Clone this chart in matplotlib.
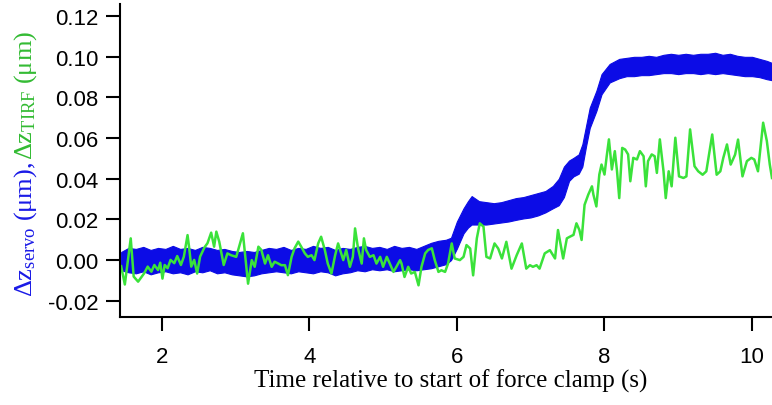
import matplotlib
matplotlib.use("Agg")
import matplotlib.pyplot as plt

plt.rcParams['font.family'] = 'Liberation Sans'
plt.rcParams['axes.unicode_minus'] = False
plt.rcParams['mathtext.fontset'] = 'custom'
plt.rcParams['mathtext.rm'] = 'Liberation Serif'
plt.rcParams['mathtext.it'] = 'Liberation Serif:italic'

# servo trace, drawn as its noise envelope (upper / lower edge of the blue band)
servo_t = [1.45, 1.55, 1.65, 1.75, 1.85, 1.95, 2.05, 2.15, 2.25, 2.35, 2.45, 2.55,
           2.65, 2.75, 2.85, 2.95, 3.05, 3.15, 3.25, 3.35, 3.45, 3.55, 3.65, 3.75,
           3.85, 3.95, 4.05, 4.15, 4.25, 4.35, 4.45, 4.55, 4.65, 4.75, 4.85, 4.95,
           5.05, 5.15, 5.25, 5.35, 5.45, 5.55, 5.65, 5.75, 5.85,
           5.92, 6.0, 6.09, 6.15, 6.2, 6.3, 6.4, 6.5, 6.6, 6.7, 6.8, 6.9, 7.0, 7.1,
           7.2, 7.3, 7.38, 7.45, 7.52, 7.58, 7.65, 7.7, 7.75, 7.8, 7.89, 7.96, 8.07,
           8.2, 8.3, 8.4, 8.5, 8.6, 8.7, 8.8, 8.9, 9.0, 9.1, 9.2, 9.3, 9.4, 9.5, 9.6,
           9.7, 9.8, 9.9, 10.0, 10.1, 10.2, 10.27]
servo_hi = [0.004, 0.006, 0.0055, 0.0065, 0.005, 0.006, 0.0055, 0.007, 0.0055, 0.006,
            0.005, 0.0065, 0.006, 0.005, 0.0055, 0.0045, 0.004, 0.0045, 0.004, 0.005,
            0.006, 0.0055, 0.0065, 0.005, 0.006, 0.0055, 0.007, 0.006, 0.0065, 0.005,
            0.006, 0.0055, 0.0065, 0.007, 0.006, 0.0065, 0.0055, 0.007, 0.006, 0.0065,
            0.0055, 0.007, 0.0085, 0.0095, 0.010,
            0.011, 0.019, 0.0255, 0.029, 0.0315, 0.029, 0.0285, 0.028, 0.0285, 0.0295,
            0.0305, 0.031, 0.032, 0.033, 0.034, 0.0365, 0.040, 0.046, 0.049, 0.0503,
            0.052, 0.057, 0.066, 0.075, 0.0833, 0.0915, 0.0965, 0.099, 0.0995, 0.100,
            0.100, 0.1005, 0.100, 0.101, 0.1015, 0.101, 0.1015, 0.101, 0.1015, 0.1015,
            0.102, 0.101, 0.1015, 0.1005, 0.100, 0.100, 0.099, 0.098, 0.097]
servo_lo = [-0.005, -0.006, -0.0065, -0.0055, -0.007, -0.006, -0.0055, -0.0065, -0.006,
            -0.007, -0.0055, -0.006, -0.005, -0.0065, -0.006, -0.007, -0.0075, -0.008,
            -0.0075, -0.0065, -0.006, -0.0055, -0.006, -0.0065, -0.0055, -0.006, -0.0065,
            -0.0055, -0.006, -0.0075, -0.0065, -0.006, -0.005, -0.0055, -0.0045, -0.005,
            -0.0045, -0.0055, -0.005, -0.0045, -0.005, -0.0045, -0.004, -0.003, -0.002,
            0.000, 0.0057, 0.0132, 0.016, 0.0175, 0.0175, 0.0175, 0.018, 0.0185, 0.019,
            0.0198, 0.0205, 0.021, 0.022, 0.0235, 0.0255, 0.027, 0.031, 0.039, 0.0412,
            0.0425, 0.046, 0.056, 0.065, 0.0734, 0.0816, 0.0874, 0.0895, 0.0905, 0.0905,
            0.091, 0.091, 0.0915, 0.092, 0.092, 0.0915, 0.092, 0.092, 0.0915, 0.092,
            0.0915, 0.092, 0.0915, 0.091, 0.0905, 0.0905, 0.090, 0.089, 0.0885]

# TIRF trace
tirf_t = [1.45, 1.50, 1.58, 1.62, 1.68, 1.76, 1.81, 1.86, 1.90, 1.95, 1.98, 2.01, 2.04,
          2.08, 2.12, 2.17, 2.21, 2.26, 2.30, 2.35, 2.37, 2.40, 2.44, 2.48, 2.52, 2.58,
          2.62, 2.67, 2.71, 2.74, 2.78, 2.81, 2.84, 2.89,
          2.94, 3.01, 3.10, 3.17, 3.22, 3.26, 3.31, 3.35, 3.40, 3.44, 3.49, 3.53, 3.58,
          3.62, 3.67, 3.71, 3.76, 3.80, 3.85, 3.89, 3.94, 3.98, 4.03, 4.07, 4.12, 4.16,
          4.21, 4.25, 4.30, 4.35, 4.39,
          4.46, 4.50, 4.55, 4.59, 4.62, 4.66, 4.71, 4.74, 4.77, 4.82, 4.87, 4.91, 4.96,
          5.00, 5.05, 5.09, 5.14, 5.18, 5.23, 5.25, 5.29, 5.34, 5.38, 5.43, 5.48, 5.52,
          5.57, 5.61, 5.66, 5.70, 5.75, 5.79, 5.84, 5.88,
          5.93, 5.97, 6.04, 6.09, 6.13, 6.18, 6.22, 6.27, 6.31, 6.36, 6.40, 6.45, 6.51,
          6.56, 6.61, 6.67, 6.74, 6.81, 6.88, 6.94, 6.99, 7.03, 7.08, 7.12, 7.19, 7.26,
          7.33, 7.37,
          7.44, 7.49, 7.53, 7.58, 7.62, 7.66, 7.69, 7.73, 7.78, 7.83, 7.85, 7.89, 7.93,
          7.96, 8.00, 8.03, 8.06, 8.10, 8.14, 8.17, 8.20, 8.24, 8.28, 8.32, 8.35, 8.39,
          8.44, 8.48, 8.53, 8.56, 8.59, 8.64, 8.68, 8.71, 8.75, 8.80, 8.83,
          8.87, 8.91, 8.96, 9.01, 9.07, 9.11, 9.16, 9.22, 9.27, 9.33, 9.38, 9.46, 9.52,
          9.57, 9.61, 9.66, 9.71, 9.77, 9.81, 9.87, 9.93, 9.99, 10.03, 10.08, 10.15,
          10.20, 10.24, 10.27]
tirf_v = [-0.003, -0.012, 0.0107, -0.0081, -0.0106, -0.0066, -0.0032, -0.0057, -0.0024,
          -0.0049, -0.0013, -0.0091, -0.0024, -0.004, 0.0001, -0.0015, 0.002, -0.0024,
          0.0017, 0.0123, 0.0066, -0.0032, 0.0001, -0.0066, 0.0017, 0.0063, 0.0083,
          0.0135, 0.0066, 0.014, 0.009, 0.0033, -0.0024, 0.0033,
          0.0024, 0.0016, 0.0132, -0.0116, 0.0, -0.0033, 0.0066, 0.005, -0.0017, 0.0024,
          -0.0033, -0.0008, -0.0017, -0.0025, -0.0025, -0.0074, 0.0016, 0.0058, 0.0091,
          0.0066, 0.0033, 0.0016, 0.0024, 0.0, 0.0082, 0.0115, 0.005, -0.0017, -0.0066,
          0.0024, 0.0082,
          0.0, 0.005, -0.0033, 0.0016, 0.0156, 0.0058, -0.0017, 0.0107, 0.005, 0.0016,
          0.0024, -0.0017, 0.0016, -0.0033, 0.0016, -0.0017, -0.0058, -0.0033, 0.0,
          -0.0017, -0.0083, -0.0033, -0.0066, -0.0058, -0.0124, -0.0033, 0.0033, 0.005,
          0.0058, 0.0, -0.0058, -0.005, -0.0058, -0.0017,
          0.0082, 0.0008, 0.0, 0.0016, 0.0074, 0.0057, -0.0075, 0.0107, 0.0181, 0.0165,
          0.0016, 0.0008, 0.0082, 0.0057, 0.0008, 0.009, -0.0042, 0.0024, 0.0082,
          -0.0042, -0.0025, -0.0033, -0.0025, -0.0042, 0.0033, 0.0049, 0.0008, 0.0148,
          0.0008, 0.0107, 0.0115, 0.0124, 0.0181, 0.0148, 0.0099, 0.0272, 0.0322, 0.0363,
          0.0322, 0.0264, 0.0421, 0.047, 0.0421, 0.0511, 0.0594, 0.0446, 0.0536, 0.0437,
          0.0305, 0.0552, 0.0544, 0.052, 0.0388, 0.0503, 0.0495, 0.0536, 0.0511, 0.0363,
          0.0487, 0.052, 0.0511, 0.0429, 0.0594, 0.0437, 0.0305,
          0.0437, 0.0363, 0.0602, 0.0412, 0.0404, 0.0412, 0.0643, 0.0462, 0.0437, 0.042,
          0.0437, 0.0618, 0.042, 0.0437, 0.0503, 0.0569, 0.047, 0.0519, 0.0593, 0.0412,
          0.0487, 0.0503, 0.0495, 0.0437, 0.0676, 0.0586, 0.047, 0.0404]

x_ticks = [2, 4, 6, 8, 10]
y_ticks = [-0.02, 0.00, 0.02, 0.04, 0.06, 0.08, 0.10, 0.12]

fig = plt.figure(figsize=(7.72, 4.06), dpi=100)
ax = fig.add_axes([0.155, 0.2167, 0.845, 0.771])

ax.fill_between(servo_t, servo_lo, servo_hi, color='#0c0ce6', edgecolor='#0c0ce6', lw=0.8)
ax.plot(tirf_t, tirf_v, color='#3ae23a', lw=1.8)

ax.set_xlim(1.43, 10.27)
ax.set_ylim(-0.028, 0.126)
ax.set_xticks(x_ticks)
ax.set_yticks(y_ticks)
ax.set_yticklabels([f'{v:.2f}' for v in y_ticks])

ax.spines['top'].set_visible(False)
ax.spines['right'].set_visible(False)
ax.spines['left'].set_linewidth(1.5)
ax.spines['bottom'].set_linewidth(1.5)
ax.tick_params(axis='both', length=10, width=1.5, labelsize=16)
ax.tick_params(axis='x', pad=11)
ax.tick_params(axis='y', pad=5)

fig.text(0.584, 1 - 381 / 406, 'Time relative to start of force clamp (s)',
         ha='center', va='center', fontfamily='Liberation Serif', fontsize=18)

# two-coloured y label, built from two rotated texts meeting at one point
ysplit = 0.605
fig.text(0.0415, ysplit, 'Δz$_{\\mathrm{servo}}$ (μm), ', color='#1a1ae6', rotation=90,
         rotation_mode='anchor', ha='right', va='baseline',
         fontfamily='Liberation Serif', fontsize=19)
fig.text(0.0415, ysplit, 'Δz$_{\\mathrm{TIRF}}$ (μm)', color='#33bb33', rotation=90,
         rotation_mode='anchor', ha='left', va='baseline',
         fontfamily='Liberation Serif', fontsize=19)

fig.savefig('out.png', dpi=100)
